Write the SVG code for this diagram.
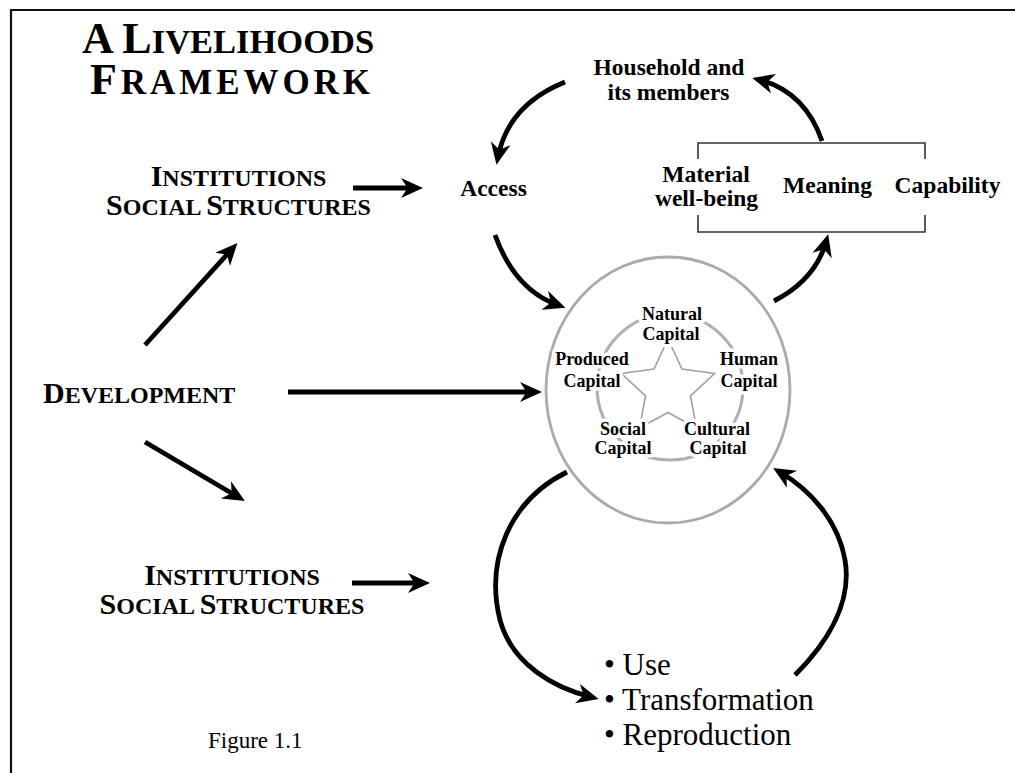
<svg xmlns="http://www.w3.org/2000/svg" width="1015" height="773" viewBox="0 0 1015 773">
  <style>
    .serif { font-family: "Liberation Serif", "Times New Roman", serif; fill: #000; }
    .b { font-weight: bold; }
    .lbl { font-size: 23.5px; text-anchor: middle; }
    .cap { font-size: 18px; text-anchor: middle; stroke: #fff; stroke-width: 7px; stroke-linejoin: round; paint-order: stroke; }
    .sc { font-size: 30px; }
    .scs { font-size: 24px; }
    .list { font-size: 31px; }
    .conn { fill: none; stroke: #000; stroke-width: 4.8; stroke-linecap: butt; }
    .frame { fill: none; stroke: #111; stroke-width: 2.2; }
  </style>
  <defs>
    <marker id="ah" markerUnits="userSpaceOnUse" orient="auto" overflow="visible" refX="0" refY="0" markerWidth="1" markerHeight="1">
      <path d="M8,0 L-14,-10 L-7.5,0 L-14,10 Z" fill="#000"/>
    </marker>
  </defs>

  <rect width="1015" height="773" fill="#fff"/>

  <!-- page frame -->
  <path class="frame" d="M11,773 L11,10 L1015,10"/>

  <!-- title -->
  <g id="title" class="serif b">
    <text x="82" y="53" font-size="44">A L<tspan font-size="34.5">IVELIHOODS</tspan></text>
    <text x="90" y="94" textLength="280" font-size="44">F<tspan font-size="35">RAMEWORK</tspan></text>
  </g>

  <!-- connectors -->
  <g id="connectors" class="conn" marker-end="url(#ah)">
    <path d="M353,188 L415,188"/>
    <path d="M145,345 L232,249"/>
    <path d="M288,392 L534,392"/>
    <path d="M145,442 L238,497"/>
    <path d="M352,583 L422,583"/>
    <path d="M565,82 Q508,105 498,157"/>
    <path d="M495,235 Q515,290 558,305"/>
    <path d="M774,301 Q815,280 826,242"/>
    <path d="M822,141 Q805,92 760,80"/>
    <path d="M567,472 C510,500 485,560 500,620 C512,665 555,688 591,697"/>
    <path d="M795,675 C830,640 852,600 845,560 C838,520 810,490 780,472"/>
  </g>

  <!-- upper institutions -->
  <g id="institutions-upper" class="serif b">
    <text x="238.5" y="186" text-anchor="middle" class="sc">I<tspan class="scs">NSTITUTIONS</tspan></text>
    <text x="238.5" y="215" text-anchor="middle" class="sc">S<tspan class="scs">OCIAL </tspan>S<tspan class="scs">TRUCTURES</tspan></text>
  </g>

  <!-- development -->
  <g id="development" class="serif b">
    <text x="43" y="403" class="sc">D<tspan class="scs">EVELOPMENT</tspan></text>
  </g>

  <!-- lower institutions -->
  <g id="institutions-lower" class="serif b">
    <text x="232" y="585" text-anchor="middle" class="sc">I<tspan class="scs">NSTITUTIONS</tspan></text>
    <text x="232" y="614" text-anchor="middle" class="sc">S<tspan class="scs">OCIAL </tspan>S<tspan class="scs">TRUCTURES</tspan></text>
  </g>

  <!-- access -->
  <g id="access" class="serif b lbl">
    <text x="493.5" y="196">Access</text>
  </g>

  <!-- household -->
  <g id="household" class="serif b lbl">
    <text x="669" y="75">Household and</text>
    <text x="668.5" y="100">its members</text>
  </g>

  <!-- outcomes box -->
  <g id="outcomes">
    <path d="M698,159 L698,143 L925,143 L925,159 M698,215 L698,232 L925,232 L925,215" fill="none" stroke="#333" stroke-width="1.6"/>
    <g class="serif b lbl">
      <text x="706" y="182">Material</text>
      <text x="706.5" y="206">well-being</text>
      <text x="827.5" y="193">Meaning</text>
      <text x="947.5" y="193">Capability</text>
    </g>
  </g>

  <!-- capital assets -->
  <g id="capitals">
    <ellipse cx="668" cy="390" rx="122" ry="133" fill="none" stroke="#aaa" stroke-width="2.8"/>
    <circle cx="670" cy="387" r="73" fill="none" stroke="#b0b0b0" stroke-width="3"/>
    <polygon points="668,339 682,369 714.5,373.5 690.5,396 696.5,428 668,412.5 639.5,428 645.5,396 621.5,373.5 654,369" fill="none" stroke="#a0a0a0" stroke-width="1.6"/>
    <g class="serif b cap">
      <text x="672" y="320">Natural</text>
      <text x="671" y="340">Capital</text>
      <text x="592" y="365">Produced</text>
      <text x="592" y="387">Capital</text>
      <text x="749" y="365">Human</text>
      <text x="749" y="387">Capital</text>
      <text x="623" y="435">Social</text>
      <text x="623" y="454">Capital</text>
      <text x="717" y="435">Cultural</text>
      <text x="718" y="454">Capital</text>
    </g>
  </g>

  <!-- processes -->
  <g id="processes" class="serif list">
    <text x="604" y="675">• Use</text>
    <text x="604" y="710">• Transformation</text>
    <text x="604" y="745">• Reproduction</text>
  </g>

  <!-- caption -->
  <g id="caption" class="serif">
    <text x="208" y="748" font-size="23">Figure 1.1</text>
  </g>
</svg>
